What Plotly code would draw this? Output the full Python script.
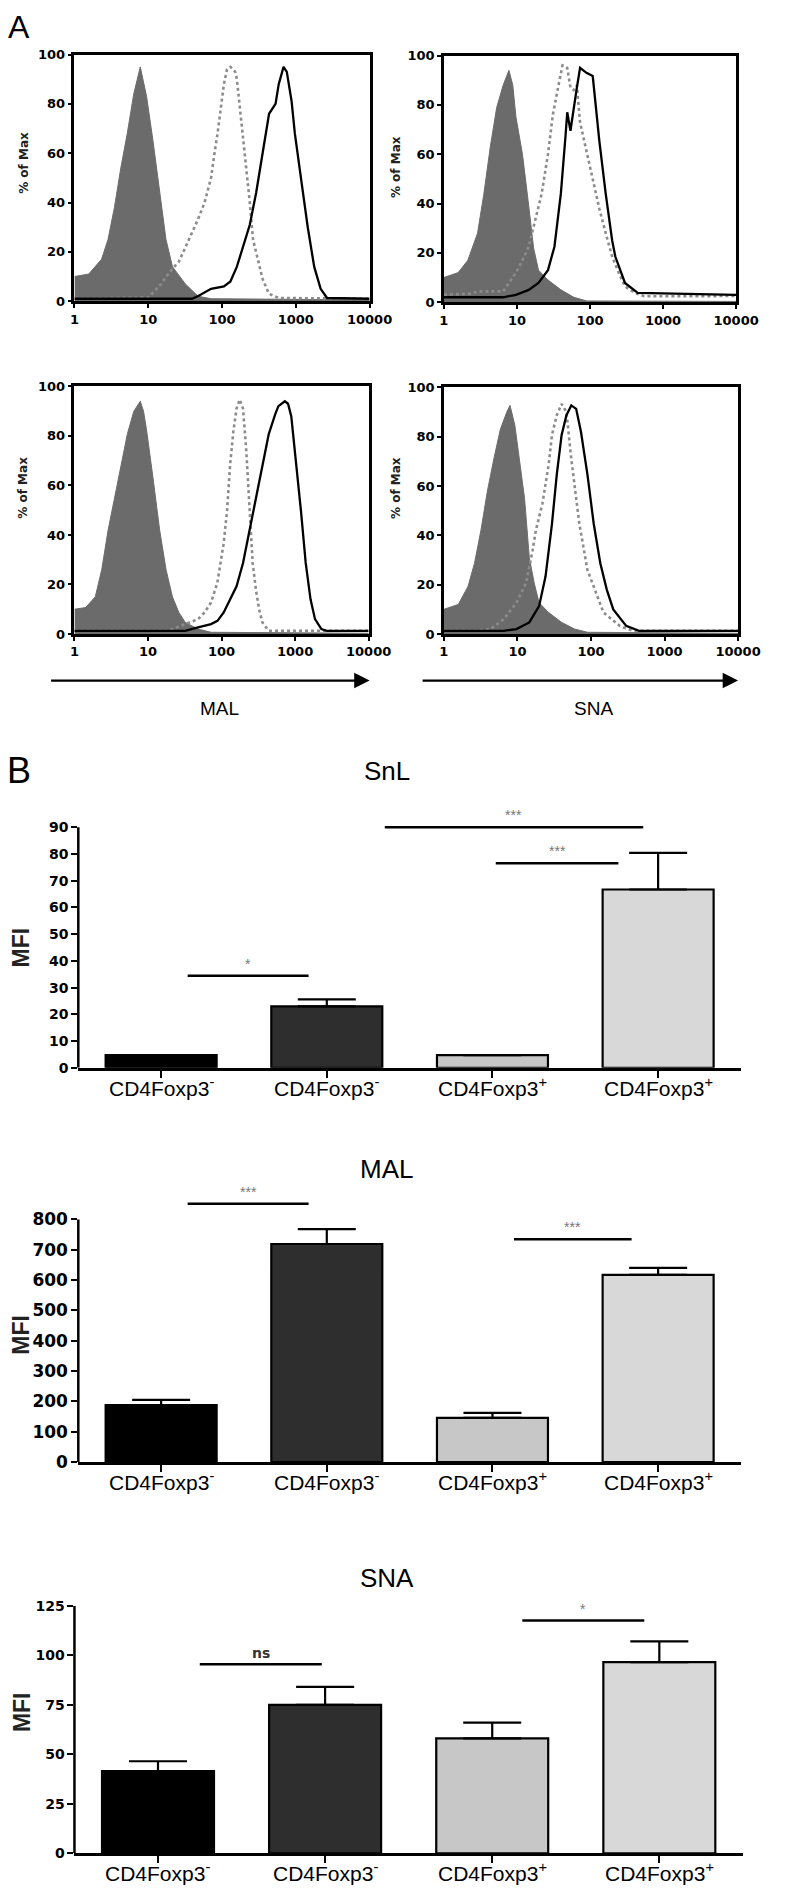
import plotly.graph_objects as go

W, H = 790, 1902

# ---------------- Panel A : flow cytometry histograms ----------------
hist_ticks = [1, 10, 100, 1000, 10000]
hist_ticktext = ["1", "10", "100", "1000", "10000"]
pct_ticks = [0, 20, 40, 60, 80, 100]

# MAL, upper row
mal_a_fill_x = [1, 1.56, 2.33, 2.85, 3.48, 4.25, 5.2, 6.36, 7.8, 9.5, 11.6, 14.2, 17.4, 21.3, 31.8, 47.5, 71, 10000]
mal_a_fill_y = [10, 11, 17, 25, 38, 54, 68, 84, 95, 83, 65, 44, 25, 14, 7, 2, 1, 0.5]
mal_a_dot_x = [1, 10, 14, 21, 26, 32, 39, 47, 58, 71, 79, 87, 106, 117, 130, 151, 159, 176, 194, 215, 238, 263, 321, 355, 434, 590, 10000]
mal_a_dot_y = [1, 1.5, 6, 13, 16, 22, 27, 33, 40, 50, 60, 68, 88, 94, 95, 93, 90, 78, 65, 52, 40, 25, 14, 9, 3, 1.3, 1]
mal_a_sol_x = [1, 39, 47, 71, 106, 130, 159, 194, 238, 290, 355, 434, 531, 587, 682, 755, 877, 970, 1186, 1451, 1774, 2170, 2650, 10000]
mal_a_sol_y = [1, 1, 2, 5, 6, 8, 14, 22, 31, 44, 61, 76, 80, 88, 95, 93, 81, 68, 49, 30, 14, 5, 1.3, 1]

# SNA, upper row
sna_a_fill_x = [1, 1.57, 2.13, 2.89, 3.53, 4.32, 5.29, 6.48, 7.77, 8.77, 9.7, 11.9, 14.5, 16.9, 19.7, 26.6, 40, 60, 90, 10000]
sna_a_fill_y = [10, 12, 17, 28, 44, 63, 79, 88, 94, 88, 75, 60, 39, 22, 13, 9, 5, 2, 0.5, 0.3]
sna_a_dot_x = [1, 2.4, 2.9, 6.5, 9.7, 11.9, 14.5, 17.8, 21.8, 26.6, 31, 36, 42, 48.8, 54, 59.7, 66, 73, 89.5, 109, 134, 164, 201, 246, 301, 407, 551, 10000]
sna_a_dot_y = [3, 3.5, 4.4, 4.4, 12, 17, 22.5, 33, 44, 60, 76, 86, 96, 95, 87, 86, 88, 73, 61, 49, 38, 28, 18.5, 12, 6.4, 3.8, 2.4, 2.5]
sna_a_sol_x = [1, 6.5, 9.7, 14.5, 19.7, 26.6, 32.6, 39.9, 46.4, 48.8, 54, 59.7, 66.1, 73.1, 89.5, 109, 121, 134, 164, 201, 222, 301, 450, 10000]
sna_a_sol_y = [2, 2, 3, 5, 7.8, 13, 22.5, 44, 68, 77, 69.5, 79, 87, 95, 93, 91.7, 79, 65.5, 44, 25, 18.5, 7.8, 3.8, 3]

# MAL, lower row
mal_b_fill_x = [1, 1.42, 1.92, 2.35, 2.87, 3.51, 4.3, 5.26, 6.43, 7.86, 8.69, 9.6, 11.7, 14.4, 17.6, 21.5, 26.3, 32.1, 48, 72, 10000]
mal_b_fill_y = [10, 10.7, 15, 26, 42, 55, 69, 81, 90, 94, 90, 82, 63, 42, 26, 15, 8.7, 4.7, 2, 0.7, 0.3]
mal_b_dot_x = [1, 17.6, 21.5, 32.1, 48, 58.7, 71.8, 87.7, 107, 119, 131, 145, 160, 177, 196, 217, 240, 265, 293, 324, 359, 438, 10000]
mal_b_dot_y = [1.3, 1.3, 2, 4, 6, 8.7, 12.7, 20.7, 36.7, 50, 68.7, 82, 91, 94.7, 91, 74, 50, 28.7, 18, 10, 4.7, 1.3, 1.3]
mal_b_sol_x = [1, 32, 48, 72, 88, 107, 131, 160, 196, 240, 293, 359, 438, 536, 593, 725, 802, 887, 1020, 1199, 1394, 1622, 1866, 2279, 2700, 10000]
mal_b_sol_y = [1.3, 1.3, 2.7, 4, 5.3, 8.7, 14, 19.3, 28.7, 42, 55, 68.7, 80.7, 88.7, 92, 94, 93, 88, 71, 50, 28.7, 14, 6, 2, 1.3, 1.3]

# SNA, lower row
sna_b_fill_x = [1, 1.57, 2.13, 2.61, 3.19, 3.91, 4.78, 5.86, 7.17, 7.93, 9.22, 10.7, 12.5, 14.5, 16.9, 19.7, 26.6, 40, 60, 90, 10000]
sna_b_fill_y = [10, 12, 19.3, 28.7, 42, 58, 71, 83, 90, 92.7, 84.7, 71, 55, 31, 20.7, 12.7, 8.7, 4.7, 2, 0.7, 0.3]
sna_b_dot_x = [1, 2.9, 4.3, 6.5, 9.7, 13.1, 16.1, 17.8, 21.8, 26.6, 29.5, 34.3, 39.9, 46.4, 54, 69.5, 89.5, 148, 246, 368, 10000]
sna_b_dot_y = [1.3, 1.3, 2, 6, 12.7, 20.7, 34, 42, 52.7, 68.7, 80.7, 88.7, 93.3, 90, 71, 44.7, 26, 8.7, 3.3, 1.3, 1.3]
sna_b_sol_x = [1, 6.5, 9.7, 14.5, 19.7, 24.1, 29.5, 34.3, 39.9, 46.4, 54, 62.9, 73.1, 89.5, 109, 134, 164, 201, 301, 450, 10000]
sna_b_sol_y = [1.3, 1.3, 2, 4.7, 11.3, 23.3, 44.7, 64.7, 80.7, 88.7, 92.7, 91.3, 82, 64.7, 44.7, 28.7, 18, 10, 3.3, 1.3, 1.3]

# ---------------- Panel B : MFI bar charts ----------------
bar_labels = ["CD4Foxp3<sup>-</sup>", "CD4Foxp3<sup>-</sup>", "CD4Foxp3<sup>+</sup>", "CD4Foxp3<sup>+</sup>"]
bar_pos = [0, 1, 2, 3]

snl_mean = [4.8, 23, 4.8, 66.7]
snl_sem = [None, 2.6, None, 13.7]
snl_ticks = [0, 10, 20, 30, 40, 50, 60, 70, 80, 90]
snl_sig_x0 = [0.16, 1.35, 2.02]
snl_sig_x1 = [0.89, 2.91, 2.76]
snl_sig_y = [34.4, 90, 76.5]
snl_sig_txt = ["*", "***", "***"]

mal_mean = [188, 719, 146, 617]
mal_sem = [17, 49, 16, 23]
mal_ticks = [0, 100, 200, 300, 400, 500, 600, 700, 800]
mal_sig_x0 = [0.16, 2.13]
mal_sig_x1 = [0.89, 2.84]
mal_sig_y = [852, 735]
mal_sig_txt = ["***", "***"]

sna_mean = [41.5, 75, 58, 96.5]
sna_sem = [5, 9, 8, 10.5]
sna_ticks = [0, 25, 50, 75, 100, 125]
sna_sig_x0 = [0.25, 2.18]
sna_sig_x1 = [0.98, 2.91]
sna_sig_y = [95.5, 117.5]
sna_sig_txt = ["ns", "*"]

# ---------------- styles / layout helpers ----------------
BASE = "Liberation Sans, Arial, sans-serif"
BOLDNUM = "DejaVu Sans, sans-serif"
bar_colors = ["#000000", "#2e2e2e", "#c7c7c7", "#d8d8d8"]
FILL_GRAY = "#6b6b6b"
DOT_GRAY = "#8c8c8c"


def fx(px):
    return px / W


def fy(py):
    return 1 - py / H


def note(text, x, y, size, family=BASE, weight="normal", color="black", angle=0):
    return dict(text=text, x=fx(x), y=fy(y), xref="paper", yref="paper",
                xanchor="center", yanchor="middle", textangle=angle, showarrow=False,
                font=dict(family=family, size=size, weight=weight, color=color))


fig = go.Figure()
layout = dict(
    width=W, height=H, autosize=False,
    margin=dict(l=0, r=0, t=0, b=0, pad=0),
    paper_bgcolor="white", plot_bgcolor="white",
    showlegend=False,
    font=dict(family=BASE, color="black"),
)
annotations = []
shapes = []

# histogram panels: (axis index, left, right, top, bottom px, fill, dotted, solid, title x px, title y px)
hist_panels = [
    (1, 72, 378, 47, 296, (mal_a_fill_x, mal_a_fill_y), (mal_a_dot_x, mal_a_dot_y), (mal_a_sol_x, mal_a_sol_y), 19, 156),
    (2, 455, 758, 48, 297, (sna_a_fill_x, sna_a_fill_y), (sna_a_dot_x, sna_a_dot_y), (sna_a_sol_x, sna_a_sol_y), 406, 161),
    (3, 72, 377, 382, 632, (mal_b_fill_x, mal_b_fill_y), (mal_b_dot_x, mal_b_dot_y), (mal_b_sol_x, mal_b_sol_y), 19, 484),
    (4, 455, 760, 383, 632, (sna_b_fill_x, sna_b_fill_y), (sna_b_dot_x, sna_b_dot_y), (sna_b_sol_x, sna_b_sol_y), 406, 485),
]

for n, l, r, t, b, fill, dot, sol, tx, ty in hist_panels:
    xa = "x" if n == 1 else f"x{n}"
    ya = "y" if n == 1 else f"y{n}"
    fig.add_trace(go.Scatter(x=fill[0], y=fill[1], mode="lines", fill="tozeroy",
                             fillcolor=FILL_GRAY, line=dict(color=FILL_GRAY, width=1),
                             xaxis=xa, yaxis=ya, hoverinfo="skip"))
    fig.add_trace(go.Scatter(x=dot[0], y=dot[1], mode="lines",
                             line=dict(color=DOT_GRAY, width=2.6, dash="dot"),
                             xaxis=xa, yaxis=ya, hoverinfo="skip"))
    fig.add_trace(go.Scatter(x=sol[0], y=sol[1], mode="lines",
                             line=dict(color="black", width=2.3),
                             xaxis=xa, yaxis=ya, hoverinfo="skip"))
    layout["xaxis" if n == 1 else f"xaxis{n}"] = dict(
        domain=[fx(l), fx(r)], anchor=ya, type="log", range=[0, 4],
        tickmode="array", tickvals=hist_ticks, ticktext=hist_ticktext,
        showline=True, mirror=True, linecolor="black", linewidth=2.5,
        ticks="outside", ticklen=4, tickwidth=2, tickcolor="black",
        tickfont=dict(family=BOLDNUM, size=13, weight="bold", color="black"),
        showgrid=False, zeroline=False)
    layout["yaxis" if n == 1 else f"yaxis{n}"] = dict(
        domain=[fy(b), fy(t)], anchor=xa, range=[0, 100],
        tickmode="array", tickvals=pct_ticks,
        showline=True, mirror=True, linecolor="black", linewidth=2.5,
        ticks="outside", ticklen=4, tickwidth=2, tickcolor="black",
        tickfont=dict(family=BOLDNUM, size=13, weight="bold", color="black"),
        showgrid=False, zeroline=False)
    annotations.append(note("% of Max", tx, ty, 12, family=BOLDNUM, weight="bold",
                            color="#222", angle=-90))

# axis arrows + lectin names under the lower histograms
for xr, x_start, lbl, lx in [(378, 58, "MAL", 222), (760, 443, "SNA", 610)]:
    annotations.append(dict(text="", x=fx(xr), y=fy(679), xref="paper", yref="paper",
                            ax=-(xr - x_start), ay=0, axref="pixel", ayref="pixel",
                            showarrow=True, arrowhead=2, arrowsize=1.4, arrowwidth=2.2,
                            arrowcolor="black", standoff=0))
    annotations.append(note(lbl, lx, 707, 19))

annotations.append(note("A", 15, 19, 32))
annotations.append(note("B", 14, 770, 36))

# bar panels: (axis index, title, means, sems, ticks, range top, left, right, zero px, px per unit,
#              tick font size, title y, MFI y, sig lists)
bar_panels = [
    (5, "SnL", snl_mean, snl_sem, snl_ticks, 95, 76, 763, 1070, 2.7, 14, 770, 948,
     snl_sig_x0, snl_sig_x1, snl_sig_y, snl_sig_txt),
    (6, "MAL", mal_mean, mal_sem, mal_ticks, 870, 76, 763, 1468, 0.30625, 17, 1172, 1339,
     mal_sig_x0, mal_sig_x1, mal_sig_y, mal_sig_txt),
    (7, "SNA", sna_mean, sna_sem, sna_ticks, 125, 72, 765, 1863, 2.0, 14, 1585, 1720,
     sna_sig_x0, sna_sig_x1, sna_sig_y, sna_sig_txt),
]

for (n, title, mean, sem, ticks, top, l, r, zero_px, ppu, tfs, title_y, mfi_y,
     sx0, sx1, sy, stxt) in bar_panels:
    xa, ya = f"x{n}", f"y{n}"
    top_px = zero_px - top * ppu
    fig.add_trace(go.Bar(
        x=bar_pos, y=mean, width=0.67,
        marker=dict(color=bar_colors, line=dict(color="black", width=2.2)),
        error_y=dict(type="data", symmetric=False, array=sem, arrayminus=[0] * len(sem),
                     color="black", thickness=2.2, width=29),
        xaxis=xa, yaxis=ya, hoverinfo="skip"))
    layout[f"xaxis{n}"] = dict(
        domain=[fx(l), fx(r)], anchor=ya, range=[-0.5, 3.5],
        tickmode="array", tickvals=bar_pos, showticklabels=False,
        showline=True, linecolor="black", linewidth=2.5,
        ticks="outside", ticklen=7, tickwidth=2, tickcolor="black",
        showgrid=False, zeroline=False)
    layout[f"yaxis{n}"] = dict(
        domain=[fy(zero_px), fy(top_px)], anchor=xa, range=[0, top],
        tickmode="array", tickvals=ticks,
        showline=False, ticks="outside", ticklen=6, tickwidth=2, tickcolor="black",
        tickfont=dict(family=BOLDNUM, size=tfs, weight="bold", color="black"),
        showgrid=False, zeroline=False)
    # y axis line, ending at the last tick
    shapes.append(dict(type="line", xref=f"{xa} domain", yref=ya, x0=0, x1=0,
                       y0=0, y1=ticks[-1], line=dict(color="black", width=2.5)))
    # category labels just below the axis
    for p, lab in zip(bar_pos, bar_labels):
        annotations.append(dict(text=lab, x=p, y=fy(zero_px + 19), xref=xa, yref="paper",
                                xanchor="center", yanchor="middle", showarrow=False,
                                font=dict(family=BASE, size=21, color="black")))
    annotations.append(note(title, 396, title_y, 26))
    annotations.append(note("MFI", 17, mfi_y, 23, weight="bold", color="#222", angle=-90))
    for a, bb, yy, tt in zip(sx0, sx1, sy, stxt):
        shapes.append(dict(type="line", xref=xa, yref=ya, x0=a, x1=bb, y0=yy, y1=yy,
                           line=dict(color="black", width=2.5)))
        if tt == "ns":
            annotations.append(dict(text=tt, x=(a + bb) / 2, y=yy, xref=xa, yref=ya,
                                    xanchor="center", yanchor="bottom", yshift=1, showarrow=False,
                                    font=dict(family=BOLDNUM, size=14, weight="bold", color="#333")))
        else:
            annotations.append(dict(text=tt, x=(a + bb) / 2, y=yy, xref=xa, yref=ya,
                                    xanchor="center", yanchor="bottom", yshift=2, showarrow=False,
                                    font=dict(family=BASE, size=14, color="#777")))

layout["annotations"] = annotations
layout["shapes"] = shapes
fig.update_layout(**layout)

fig.write_html("out.html", config={"displayModeBar": False},
               post_script="document.body.style.margin='0';")
